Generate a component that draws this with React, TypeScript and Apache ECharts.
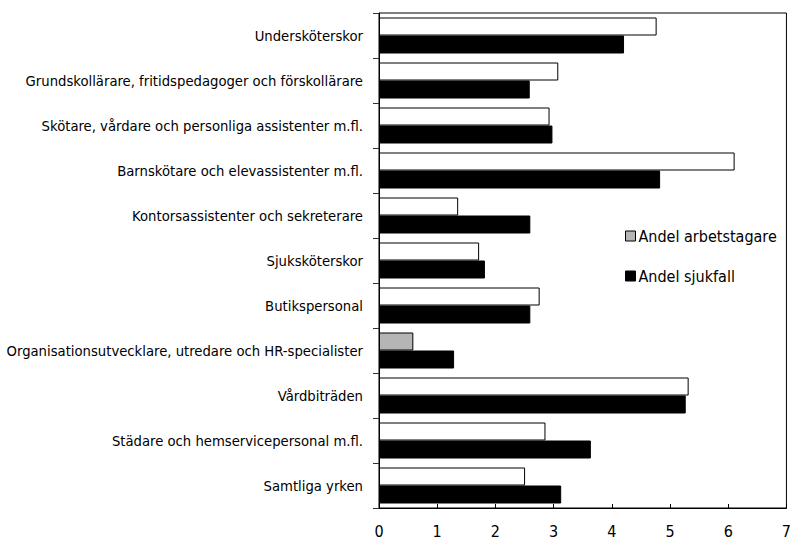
import React, { useEffect, useRef } from "react";
import * as echarts from "echarts";

const categories = [
  "Undersköterskor",
  "Grundskollärare, fritidspedagoger och förskollärare",
  "Skötare, vårdare och personliga assistenter m.fl.",
  "Barnskötare och elevassistenter m.fl.",
  "Kontorsassistenter och sekreterare",
  "Sjuksköterskor",
  "Butikspersonal",
  "Organisationsutvecklare, utredare och HR-specialister",
  "Vårdbiträden",
  "Städare och hemservicepersonal m.fl.",
  "Samtliga yrken",
];

const andelArbetstagare = [4.77, 3.08, 2.93, 6.11, 1.36, 1.72, 2.76, 0.59, 5.32, 2.86, 2.51];
const andelSjukfall = [4.21, 2.59, 2.98, 4.83, 2.6, 1.82, 2.6, 1.29, 5.27, 3.64, 3.13];
const grayIndex = 7;

const xTicks = [0, 1, 2, 3, 4, 5, 6, 7];

const FONT = "'Liberation Sans Narrow', 'DejaVu Sans Condensed', 'Roboto', sans-serif";

export default function App() {
  const ref = useRef<HTMLDivElement>(null);
  useEffect(() => {
    if (!ref.current) return;
    const chart = echarts.init(ref.current, undefined, { renderer: "svg" });
    chart.setOption({
      animation: false,
      backgroundColor: "#fff",
      textStyle: { fontFamily: FONT, color: "#000" },
      grid: {
        left: 379,
        top: 13,
        right: 3,
        bottom: 29,
        containLabel: false,
        show: true,
        borderColor: "#000",
        borderWidth: 1,
        backgroundColor: "transparent",
      },
      legend: {
        orient: "vertical",
        left: 620,
        top: 223,
        itemWidth: 10,
        itemHeight: 10,
        itemGap: 24,
        icon: "rect",
        textStyle: { fontFamily: FONT, fontSize: 16, color: "#000", padding: [0, 0, 0, -2] },
        data: [
          { name: "Andel arbetstagare", itemStyle: { color: "#b5b5b5", borderColor: "#000", borderWidth: 1 } },
          { name: "Andel sjukfall", itemStyle: { color: "#000", borderColor: "#000", borderWidth: 1 } },
        ],
      },
      xAxis: {
        type: "value",
        min: xTicks[0],
        max: xTicks[xTicks.length - 1],
        interval: 1,
        axisLine: { show: true, lineStyle: { color: "#000", width: 1 } },
        axisTick: { show: true, inside: true, length: 4, lineStyle: { color: "#000" } },
        axisLabel: { fontFamily: FONT, fontSize: 16, color: "#000", margin: 15 },
        splitLine: { show: false },
      },
      yAxis: {
        type: "category",
        inverse: true,
        data: categories,
        axisLine: { show: true, lineStyle: { color: "#000", width: 1 } },
        axisTick: { show: true, length: 6, lineStyle: { color: "#333" } },
        axisLabel: { fontFamily: FONT, fontSize: 14.7, color: "#000", margin: 16 },
      },
      series: [
        {
          name: "Andel arbetstagare",
          type: "bar",
          barGap: "0%",
          barCategoryGap: "20%",
          data: andelArbetstagare.map((v, i) =>
            i === grayIndex
              ? { value: v, itemStyle: { color: "#b5b5b5", borderColor: "#000", borderWidth: 1 } }
              : v
          ),
          itemStyle: { color: "#fff", borderColor: "#000", borderWidth: 1 },
        },
        {
          name: "Andel sjukfall",
          type: "bar",
          barGap: "0%",
          barCategoryGap: "20%",
          data: andelSjukfall,
          itemStyle: { color: "#000", borderColor: "#000", borderWidth: 1 },
        },
      ],
    });
    return () => chart.dispose();
  }, []);
  return <div ref={ref} style={{ width: 794, height: 539, position: "absolute", left: 0, top: 0 }} />;
}
